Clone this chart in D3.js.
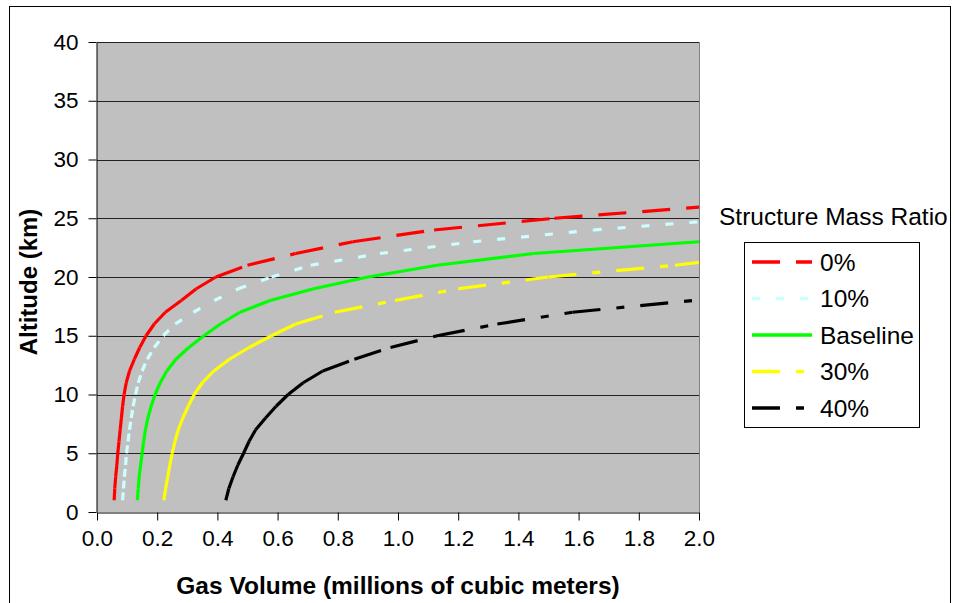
<!DOCTYPE html>
<html>
<head>
<meta charset="utf-8">
<script src="https://cdn.jsdelivr.net/npm/d3@7"></script>
<style>
  html, body { margin: 0; padding: 0; background: #fff; }
  svg { display: block; font-family: "Liberation Sans", Arial, sans-serif; }
</style>
</head>
<body>
<svg id="chart" width="955" height="603"></svg>
<script>
// Altitude samples (km) and gas volume (millions of m^3) for each structure mass ratio
const alt0  = [1,2,3,4,5,6,7,8,9,10,11,12,13,14,15,16,17,18,19,20,21,22,23,24,25,26];
const vol0  = [0.057,0.059,0.062,0.066,0.069,0.073,0.077,0.081,0.085,0.09,0.097,0.108,0.124,0.142,0.163,0.19,0.227,0.28,0.33,0.395,0.50,0.66,0.85,1.12,1.52,2.03];

const alt10 = [1,2,3,4,5,6,7,8,9,10,11,12,13,14,15,16,17,18,19,20,21,22,23,24,25];
const vol10 = [0.085,0.088,0.091,0.095,0.098,0.103,0.108,0.114,0.12,0.128,0.137,0.15,0.167,0.19,0.22,0.26,0.32,0.39,0.47,0.58,0.71,0.94,1.25,1.65,2.15];

const altBase = [1,2,3,4,5,6,7,8,9,10,11,12,13,14,15,16,17,18,19,20,21,22,23];
const volBase = [0.134,0.137,0.14,0.145,0.15,0.155,0.161,0.169,0.18,0.193,0.21,0.232,0.262,0.305,0.355,0.41,0.475,0.575,0.72,0.9,1.13,1.45,2.0];

const alt30 = [1,2,3,4,5,6,7,8,9,10,11,12,13,14,15,16,17,18,19,20,21,22];
const vol30 = [0.222,0.228,0.235,0.242,0.25,0.259,0.27,0.285,0.303,0.323,0.35,0.388,0.44,0.505,0.58,0.66,0.79,0.99,1.2,1.5,1.92,2.25];

const alt40 = [1,2,3,4,5,6,7,8,9,10,11,12,13,14,15,16,17,18];
const vol40 = [0.428,0.438,0.452,0.468,0.487,0.505,0.527,0.56,0.595,0.635,0.685,0.75,0.855,0.975,1.13,1.33,1.58,1.98];

const seriesNames = ["0%", "10%", "Baseline", "30%", "40%"];
const xTicks = [0,0.2,0.4,0.6,0.8,1.0,1.2,1.4,1.6,1.8,2.0];
const yTicks = [0,5,10,15,20,25,30,35,40];

const series = [
  { name: seriesNames[0], alt: alt0,    vol: vol0,    color: "#ff0000", dash: "28,16" },
  { name: seriesNames[1], alt: alt10,   vol: vol10,   color: "#ccffff", dash: "8,16" },
  { name: seriesNames[2], alt: altBase, vol: volBase, color: "#00ff00", dash: null },
  { name: seriesNames[3], alt: alt30,   vol: vol30,   color: "#ffff00", dash: "28,16,8,16" },
  { name: seriesNames[4], alt: alt40,   vol: vol40,   color: "#000000", dash: "28,16,8,16" }
];

const svg = d3.select("#chart");
const plot = { left: 97, right: 699, top: 42, bottom: 512 };

const x = d3.scaleLinear().domain([0, 2]).range([plot.left, plot.right]);
const y = d3.scaleLinear().domain([0, 40]).range([plot.bottom, plot.top]);

// outer chart frame
svg.append("rect")
  .attr("x", 9.5).attr("y", 6.5).attr("width", 941).attr("height", 620)
  .attr("fill", "#fff").attr("stroke", "#000").attr("stroke-width", 1);

// plot background
svg.append("rect")
  .attr("x", plot.left).attr("y", plot.top)
  .attr("width", plot.right - plot.left).attr("height", plot.bottom - plot.top)
  .attr("fill", "#c0c0c0");

// horizontal gridlines
svg.append("g").selectAll("line")
  .data(yTicks.filter(d => d > 0))
  .join("line")
  .attr("x1", plot.left).attr("x2", plot.right)
  .attr("y1", d => Math.round(y(d)) + 0.5).attr("y2", d => Math.round(y(d)) + 0.5)
  .attr("stroke", "#222").attr("stroke-width", 1);

// right edge of plot area
svg.append("line")
  .attr("x1", plot.right + 0.5).attr("x2", plot.right + 0.5)
  .attr("y1", plot.top).attr("y2", plot.bottom)
  .attr("stroke", "#808080").attr("stroke-width", 1);

// clip for the curves
svg.append("defs").append("clipPath").attr("id", "plotClip")
  .append("rect")
  .attr("x", plot.left).attr("y", plot.top)
  .attr("width", plot.right - plot.left).attr("height", plot.bottom - plot.top);

// each segment is stroked on its own so the dash pattern restarts at every sample
const curves = svg.append("g").attr("clip-path", "url(#plotClip)");
series.forEach(s => {
  const pts = s.alt.map((a, i) => [x(s.vol[i]), y(a)]);
  const segs = d3.pairs(pts);
  curves.append("g").selectAll("line")
    .data(segs)
    .join("line")
    .attr("x1", d => d[0][0]).attr("y1", d => d[0][1])
    .attr("x2", d => d[1][0]).attr("y2", d => d[1][1])
    .attr("stroke", s.color)
    .attr("stroke-width", 3.2)
    .attr("stroke-linecap", "butt")
    .attr("stroke-dasharray", s.dash);
});

// axes
const xAxis = d3.axisBottom(x).tickValues(xTicks).tickFormat(d3.format(".1f"))
  .tickSizeInner(8).tickSizeOuter(0).tickPadding(10);
const yAxis = d3.axisLeft(y).tickValues(yTicks).tickFormat(d3.format("d"))
  .tickSizeInner(8).tickSizeOuter(0).tickPadding(10);

const gx = svg.append("g").attr("transform", `translate(0,${plot.bottom + 0.5})`).call(xAxis);
const gy = svg.append("g").attr("transform", `translate(${plot.left - 0.5},0)`).call(yAxis);

[gx, gy].forEach(g => {
  g.select(".domain").attr("stroke", "#000").attr("stroke-width", 1);
  g.selectAll(".tick line").attr("stroke", "#000");
  g.selectAll(".tick text").attr("fill", "#000")
    .attr("font-family", '"Liberation Sans", Arial, sans-serif')
    .attr("font-size", 22.5);
});

// axis titles
svg.append("text")
  .attr("x", (plot.left + plot.right) / 2).attr("y", 594)
  .attr("text-anchor", "middle")
  .attr("font-size", 24.5).attr("font-weight", "bold")
  .text("Gas Volume (millions of cubic meters)");

svg.append("text")
  .attr("transform", `translate(37,${(plot.top + plot.bottom) / 2 + 5}) rotate(-90)`)
  .attr("text-anchor", "middle")
  .attr("font-size", 24).attr("font-weight", "bold")
  .text("Altitude (km)");

// legend
svg.append("text")
  .attr("x", 719).attr("y", 225)
  .attr("font-size", 24.5)
  .text("Structure Mass Ratio");

const legend = svg.append("g");
legend.append("rect")
  .attr("x", 744.5).attr("y", 242.5).attr("width", 175).attr("height", 185)
  .attr("fill", "#fff").attr("stroke", "#000").attr("stroke-width", 1);

const rowY = d3.scalePoint().domain(seriesNames).range([262, 408]);
const rows = legend.selectAll("g.row").data(series).join("g")
  .attr("class", "row")
  .attr("transform", d => `translate(0,${rowY(d.name)})`);

rows.append("line")
  .attr("x1", 752).attr("x2", 812).attr("y1", 0).attr("y2", 0)
  .attr("stroke", d => d.color).attr("stroke-width", 3.5)
  .attr("stroke-dasharray", d => d.dash);

rows.append("text")
  .attr("x", 820).attr("y", 8.5)
  .attr("font-size", 24.5)
  .text(d => d.name);
</script>
</body>
</html>
